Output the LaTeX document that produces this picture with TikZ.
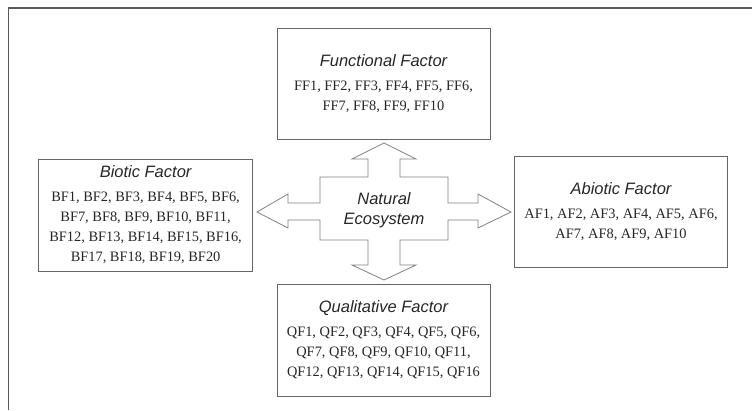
\documentclass[tikz,border=0pt]{standalone}
\usepackage{fontspec}
\setmainfont{Liberation Serif}
\newfontfamily\facsans{Liberation Sans}
\newcommand{\factitle}{\facsans\itshape\fontsize{16.5}{20}\selectfont}
\newcommand{\factbody}{\fontsize{14.4}{20}\selectfont}
\begin{document}
\begin{tikzpicture}[x=1pt, y=-1pt, factor node/.style={rectangle,draw=black!60,line width=0.9pt,minimum width=213pt,minimum height=111pt,inner sep=0pt,align=center,text=black!85,font=\factbody}]
\useasboundingbox (0,0) rectangle (752,410);
% outer frame
\draw [black!65, line width=1.6pt] (752,8) -- (8.5,8) -- (8.5,410);
\begin{scope}
\node [factor node](ff) at (383.5,84) {{\factitle Functional Factor}\\[4pt]
    FF1, FF2, FF3, FF4, FF5, FF6,\\ FF7, FF8, FF9, FF10};
\node [factor node, minimum width=214pt, minimum height=112pt](bf) at (145.6,215) {{\factitle Biotic Factor}\\[4pt]
    BF1, BF2, BF3, BF4, BF5, BF6,\\ BF7, BF8, BF9, BF10, BF11,\\ BF12, BF13, BF14, BF15, BF16,\\ BF17, BF18, BF19, BF20};
\node [factor node](af) at (621,211.5) {{\factitle Abiotic Factor}\\[4pt]
    AF1, AF2, AF3, AF4, AF5, AF6,\\ AF7, AF8, AF9, AF10};
\node [factor node, minimum height=112pt](qf) at (383.5,340) {{\factitle Qualitative Factor}\\[4pt]
    QF1, QF2, QF3, QF4, QF5, QF6,\\ QF7, QF8, QF9, QF10, QF11,\\ QF12, QF13, QF14, QF15, QF16};
\end{scope}
% cross of four block arrows
\begin{scope}[shift={(384,210)}]
\draw [black!50, line width=0.8pt, line join=miter]
    (0,-67) -- (32,-51) -- (16,-51) -- (16,-33) -- (64,-33) -- (64,-7) -- (94,-7) -- (94,-16)
    -- (127,2) -- (94,18) -- (94,10) -- (64,10) -- (64,30) -- (16,30) -- (16,55) -- (32,55)
    -- (0,70) -- (-32,55) -- (-16,55) -- (-16,30) -- (-64,30) -- (-64,10) -- (-96,10) -- (-96,18)
    -- (-127,2) -- (-96,-16) -- (-96,-7) -- (-64,-7) -- (-64,-33) -- (-16,-33) -- (-16,-51) -- (-32,-51) -- cycle;
\end{scope}
\node [align=center, text=black!85, font=\factitle](eco) at (384,210) {Natural\\Ecosystem};
\end{tikzpicture}
\end{document}
